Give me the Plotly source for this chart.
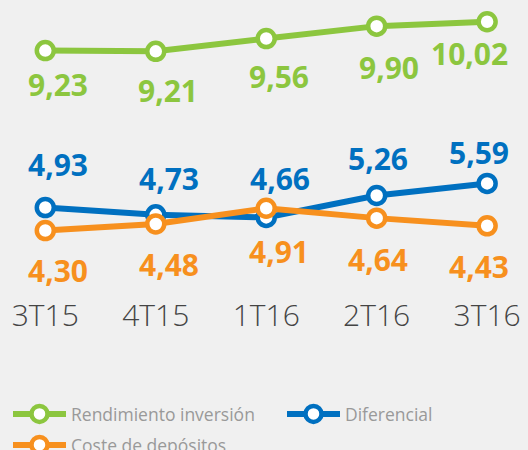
import plotly.graph_objects as go

categories = ["3T15", "4T15", "1T16", "2T16", "3T16"]
rendimiento = [9.23, 9.21, 9.56, 9.90, 10.02]
diferencial = [4.93, 4.73, 4.66, 5.26, 5.59]
coste = [4.30, 4.48, 4.91, 4.64, 4.43]

series_names = ["Rendimiento inversión", "Diferencial", "Coste de depósitos"]

# styles
colors = ["#8cc63f", "#0070c0", "#f7901e"]
legend_ids = ["legend", "legend2", "legend3"]
# legend placement (container px): left, top
legend_pos = [(8, 396), (282, 396), (8, 427)]
# label offsets in px (dx right, dy down) per point
label_dx = [
    [13, 12, 13, 12, -18],
    [13, 13, 14, 1, -8],
    [13, 13, 13, 1, -8],
]
label_dy = [
    [34, 39, 38, 41, 32],
    [-43, -36, -39, -37, -31],
    [40, 41, 43, 41, 41],
]

def fmt(v):
    return f"{v:.2f}".replace(".", ",")

xs = list(range(len(categories)))
fig = go.Figure()
all_vals = [rendimiento, diferencial, coste]
for name, vals, col, lg in zip(series_names, all_vals, colors, legend_ids):
    fig.add_trace(go.Scatter(
        x=xs, y=vals, name=name, mode="lines+markers",
        line=dict(color=col, width=6),
        marker=dict(size=17, color="white", line=dict(color=col, width=4.5)),
        hoverinfo="skip", legend=lg,
    ))

annotations = []
for si, (vals, col) in enumerate(zip(all_vals, colors)):
    for i, v in enumerate(vals):
        annotations.append(dict(
            x=xs[i], y=v, xref="x", yref="y", text=fmt(v), showarrow=False,
            xanchor="center", yanchor="middle",
            xshift=label_dx[si][i], yshift=-label_dy[si][i],
            font=dict(family="Open Sans", size=30, color=col, weight="bold"),
        ))

W, H = 528, 450
legend_font = dict(family="Open Sans", size=17.5, color="#999999")
legends = {}
for lg, (lx, ly) in zip(legend_ids, legend_pos):
    legends[lg] = dict(
        orientation="h", xref="container", yref="container",
        x=lx / W, y=1 - ly / H, xanchor="left", yanchor="top",
        font=legend_font, itemwidth=53,
        bgcolor="rgba(0,0,0,0)",
    )

fig.update_layout(
    width=W, height=H,
    margin=dict(l=0, r=0, t=0, b=160),
    paper_bgcolor="#f0f0f0", plot_bgcolor="#f0f0f0",
    showlegend=True,
    annotations=annotations,
    xaxis=dict(
        range=[-0.41, 4.37], tickvals=xs, ticktext=categories,
        showgrid=False, zeroline=False, showline=False, ticks="",
        tickfont=dict(family="Open Sans", size=30, color="#444444", weight=300),
        ticklabelstandoff=5,
        fixedrange=True,
    ),
    yaxis=dict(
        range=[2.671, 10.616], visible=False, showgrid=False, zeroline=False,
        fixedrange=True,
    ),
    **legends,
)

fig.write_html(
    "out.html",
    config={"displayModeBar": False, "staticPlot": False},
    post_script="document.body.style.margin='0';document.body.style.background='#f0f0f0';document.body.style.overflow='hidden';",
)
